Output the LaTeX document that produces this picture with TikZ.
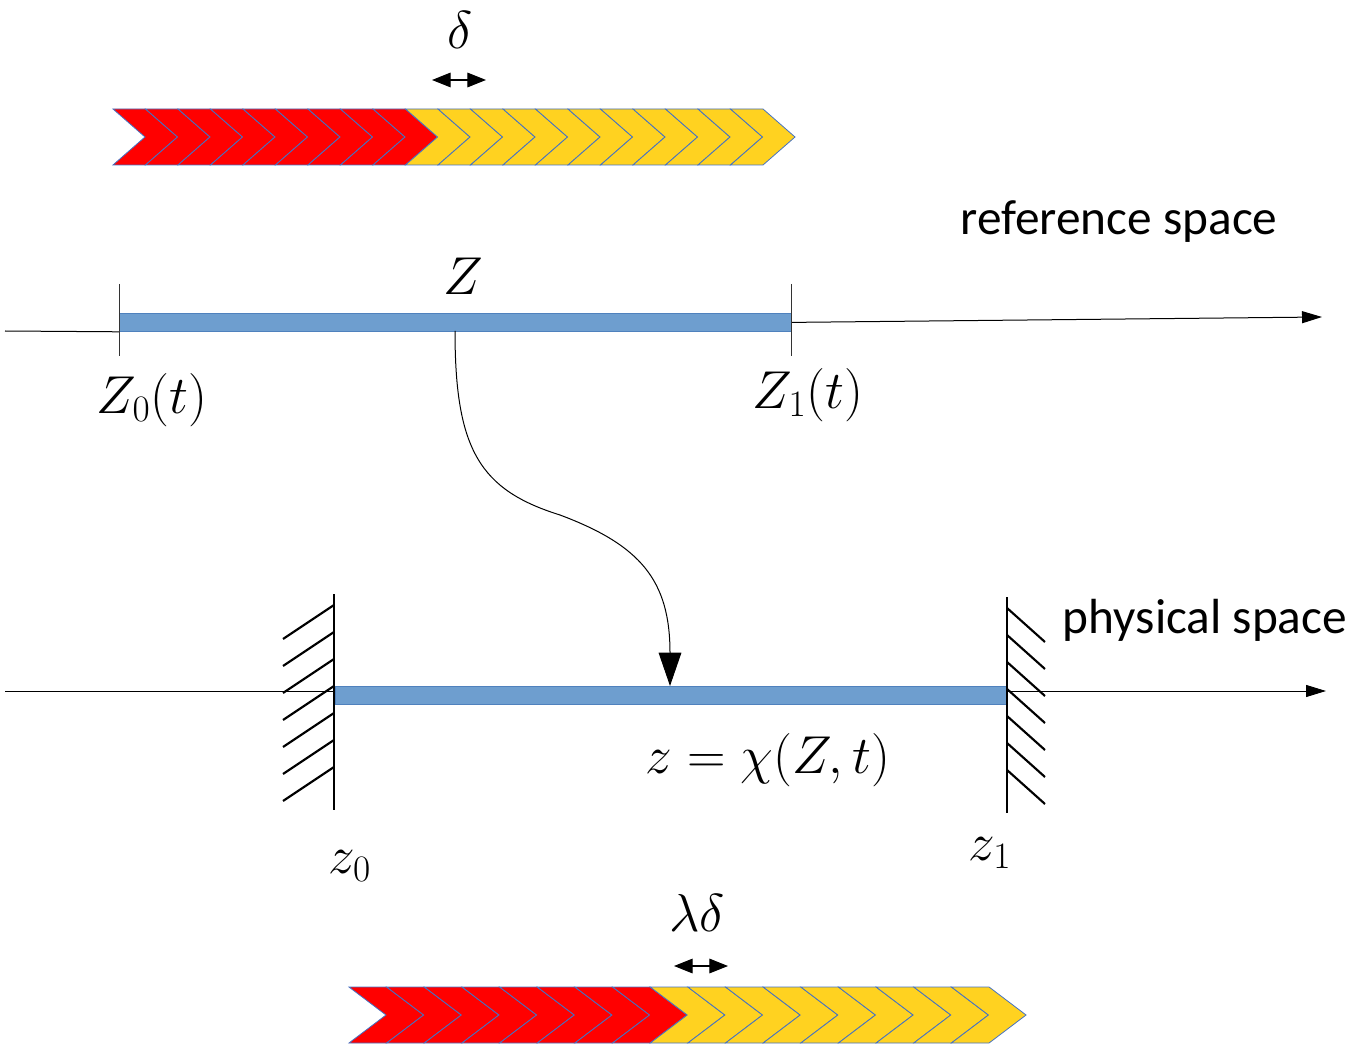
\RequirePackage{fix-cm}
\documentclass[tikz,border=0pt]{standalone}
\usepackage{fontspec}
\newfontfamily\calib{Carlito}
\usetikzlibrary{arrows.meta}
\definecolor{chevred}{HTML}{FF0000}
\definecolor{chevyel}{HTML}{FFD220}
\definecolor{chevline}{HTML}{4472C4}
\definecolor{barfill}{HTML}{6E9ECF}
\definecolor{barline}{HTML}{4F81BD}
\tikzset{
  chevron/.style={draw=chevline, line width=0.6pt, line join=miter},
  rodbar/.style={draw=barline, fill=barfill, line width=0.6pt},
  axisline/.style={line width=0.75pt, -{Triangle[length=15pt,width=9pt]}},
  thinline/.style={line width=0.75pt},
  tickline/.style={line width=0.6pt, draw=black!80},
  wallline/.style={line width=2.2pt},
  hatch/.style={line width=1.6pt},
  mathlabel/.style={font=\fontsize{40}{48}\selectfont, inner sep=0pt},
  textlabel/.style={font=\calib\fontsize{37}{44}\selectfont, inner sep=0pt},
  dimarrow/.style={line width=0.8pt, draw=black, {Triangle[length=14pt,width=11pt]}-{Triangle[length=14pt,width=11pt]}},
}
\begin{document}
\begin{tikzpicture}[x=0.75pt,y=-0.75pt]
\useasboundingbox (0,0) rectangle (1359,1044);

% ---------- top chevron band ----------
\foreach \k in {0,...,19}{
  \pgfmathsetmacro{\xa}{113+32.5*\k}
  \ifnum\k<9 \def\cc{chevred}\else\def\cc{chevyel}\fi
  \filldraw[chevron, fill=\cc] (\xa,109) -- (\xa+32,137) -- (\xa,165) -- (\xa+32.5,165) -- (\xa+64.5,137) -- (\xa+32.5,109) -- cycle;
}
\coordinate (d1) at (432,80);
\coordinate (d2) at (486,80);
\draw[dimarrow] (d1) -- (d2);
\node[mathlabel] (delta) at (460,30) {$\delta$};

% ---------- reference space ----------
\node[rodbar, minimum width=672*0.75pt, minimum height=18*0.75pt, inner sep=0pt, anchor=north west] (refbar) at (119,313) {};
\coordinate (refL) at (5,331);
\coordinate (refR) at (1322,317);
\draw[thinline] (refL) -- (refbar.south west);
\draw[axisline] (refbar.east) -- (refR);
\coordinate (t0a) at (119,284); \coordinate (t0b) at (119,356);
\coordinate (t1a) at (791,284); \coordinate (t1b) at (791,356);
\draw[tickline] (t0a) -- (t0b);
\draw[tickline] (t1a) -- (t1b);
\node[mathlabel] (Zlab) at (463,276) {$Z$};
\node[mathlabel] (Z0lab) at (152,400) {$Z_0(t)$};
\node[mathlabel] (Z1lab) at (808,395) {$Z_1(t)$};
\node[textlabel] (reflab) at (1119,222) {reference space};

% ---------- physical space ----------
\node[rodbar, minimum width=672*0.75pt, minimum height=18*0.75pt, inner sep=0pt, anchor=north west] (phybar) at (335,686) {};
\coordinate (phyL) at (5,691);
\coordinate (phyR) at (1326,691);
\coordinate (wl) at (334,691);
\coordinate (wr) at (1007,691);
\draw[thinline] (phyL) -- (wl);
\draw[axisline] (wr) -- (phyR);
% left wall
\coordinate (lwt) at (334,594); \coordinate (lwb) at (334,810);
\draw[wallline] (lwt) -- (lwb);
\foreach \k in {0,...,6}{
  \draw[hatch] (334,605+27*\k) -- (283,639+27*\k);
}
% right wall
\coordinate (rwt) at (1007,597); \coordinate (rwb) at (1007,813);
\draw[wallline] (rwt) -- (rwb);
\foreach \k in {0,...,6}{
  \draw[hatch] (1007,608+27*\k) -- (1045,642+27*\k);
}
\node[mathlabel] (z0lab) at (350,866) {$z_0$};
\node[mathlabel] (z1lab) at (990,853) {$z_1$};
\node[mathlabel] (chilab) at (768,760) {$z=\chi(Z,t)$};
\node[textlabel] (phylab) at (1205,620) {physical space};

% ---------- mapping curve ----------
\coordinate (ms) at (455,331);
\coordinate (mm) at (560,515);
\coordinate (me) at (670,686);
\draw[line width=0.75pt, -{Triangle[length=25pt,width=17pt]}] (ms) .. controls (455,450) and (480,490) .. (mm) .. controls (640,545) and (670,580) .. (me);

% ---------- bottom chevron band ----------
\foreach \k in {0,...,16}{
  \pgfmathsetmacro{\xa}{349+37.65*\k}
  \ifnum\k<8 \def\cc{chevred}\else\def\cc{chevyel}\fi
  \filldraw[chevron, fill=\cc] (\xa,987) -- (\xa+37,1015) -- (\xa,1043) -- (\xa+37.65,1043) -- (\xa+74.65,1015) -- (\xa+37.65,987) -- cycle;
}
\coordinate (e1) at (674,966);
\coordinate (e2) at (728,966);
\draw[dimarrow] (e1) -- (e2);
\node[mathlabel] (lamdelta) at (697,913) {$\lambda\delta$};
\end{tikzpicture}
\end{document}
